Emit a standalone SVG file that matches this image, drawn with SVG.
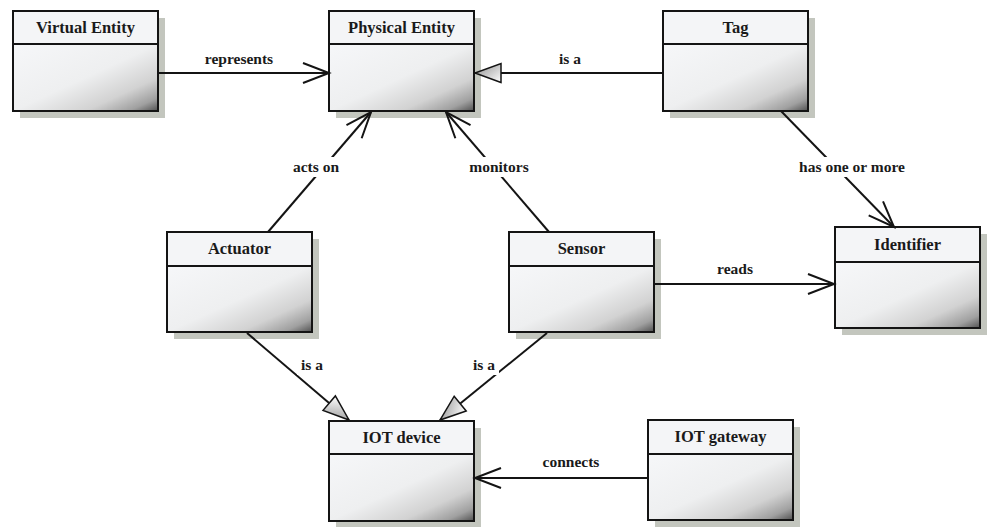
<svg xmlns="http://www.w3.org/2000/svg" width="987" height="527" viewBox="0 0 987 527">
<style>
.shadow{fill:#c3c6be}
.hdr{fill:#f4f5f7;stroke:none}
.body{fill:url(#bodyGrad);stroke:none}
.frame{fill:none;stroke:#141414;stroke-width:2}
.title{font-family:"Liberation Serif","DejaVu Serif",serif;font-weight:bold;font-size:16.5px;fill:#1a1a1a;text-anchor:middle}
.lbl{font-family:"Liberation Serif","DejaVu Serif",serif;font-weight:bold;font-size:15.5px;fill:#1a1a1a;text-anchor:middle}
.edge{stroke:#141414;stroke-width:2;fill:none}
.lblbg{fill:#ffffff}
</style>
<defs>
<linearGradient id="bodyGrad" x1="0" y1="0" x2="1" y2="1">
<stop offset="0" stop-color="#f6f7f9"/>
<stop offset="0.5" stop-color="#eeeff0"/>
<stop offset="0.75" stop-color="#d2d2d2"/>
<stop offset="0.9" stop-color="#a0a0a0"/>
<stop offset="1" stop-color="#505050"/>
</linearGradient>
<linearGradient id="triGrad" x1="0" y1="0" x2="1" y2="1">
<stop offset="0" stop-color="#ffffff"/>
<stop offset="1" stop-color="#8a8a8a"/>
</linearGradient>
<marker id="open" markerUnits="userSpaceOnUse" orient="auto" markerWidth="30" markerHeight="26" viewBox="-28 -13 30 26" refX="0" refY="0" overflow="visible">
<path d="M-26,-10 L0,0 L-26,10" fill="none" stroke="#141414" stroke-width="2"/>
</marker>
<marker id="tri" markerUnits="userSpaceOnUse" orient="auto" markerWidth="30" markerHeight="26" viewBox="-28 -13 30 26" refX="0" refY="0" overflow="visible">
<path d="M-26,-9.5 L0,0 L-26,9.5 Z" fill="url(#triGrad)" stroke="#141414" stroke-width="1.5"/>
</marker>
</defs>
<rect width="987" height="527" fill="#ffffff"/>

<g id="virtual-entity">
<rect class="shadow" x="20" y="18" width="145" height="100"/>
<rect class="hdr" x="13" y="11" width="145" height="33"/>
<rect class="body" x="13" y="44" width="145" height="67"/>
<rect class="frame" x="13" y="11" width="145" height="100"/>
<line class="frame" x1="13" y1="44" x2="158" y2="44"/>
<text class="title" x="85.5" y="33">Virtual Entity</text>
</g>

<g id="physical-entity">
<rect class="shadow" x="336" y="18" width="145" height="100"/>
<rect class="hdr" x="329" y="11" width="145" height="33"/>
<rect class="body" x="329" y="44" width="145" height="67"/>
<rect class="frame" x="329" y="11" width="145" height="100"/>
<line class="frame" x1="329" y1="44" x2="474" y2="44"/>
<text class="title" x="401.5" y="33">Physical Entity</text>
</g>

<g id="tag">
<rect class="shadow" x="670" y="18" width="145" height="100"/>
<rect class="hdr" x="663" y="11" width="145" height="33"/>
<rect class="body" x="663" y="44" width="145" height="67"/>
<rect class="frame" x="663" y="11" width="145" height="100"/>
<line class="frame" x1="663" y1="44" x2="808" y2="44"/>
<text class="title" x="735.5" y="33">Tag</text>
</g>

<g id="actuator">
<rect class="shadow" x="174" y="239" width="145" height="100"/>
<rect class="hdr" x="167" y="232" width="145" height="34"/>
<rect class="body" x="167" y="266" width="145" height="66"/>
<rect class="frame" x="167" y="232" width="145" height="100"/>
<line class="frame" x1="167" y1="266" x2="312" y2="266"/>
<text class="title" x="239.5" y="254">Actuator</text>
</g>

<g id="sensor">
<rect class="shadow" x="516" y="239" width="145" height="100"/>
<rect class="hdr" x="509" y="232" width="145" height="34"/>
<rect class="body" x="509" y="266" width="145" height="66"/>
<rect class="frame" x="509" y="232" width="145" height="100"/>
<line class="frame" x1="509" y1="266" x2="654" y2="266"/>
<text class="title" x="581.5" y="254">Sensor</text>
</g>

<g id="identifier">
<rect class="shadow" x="842" y="234" width="145" height="101"/>
<rect class="hdr" x="835" y="227" width="145" height="35"/>
<rect class="body" x="835" y="262" width="145" height="66"/>
<rect class="frame" x="835" y="227" width="145" height="101"/>
<line class="frame" x1="835" y1="262" x2="980" y2="262"/>
<text class="title" x="907.5" y="250">Identifier</text>
</g>

<g id="iot-device">
<rect class="shadow" x="336" y="428" width="145" height="100"/>
<rect class="hdr" x="329" y="421" width="145" height="33"/>
<rect class="body" x="329" y="454" width="145" height="67"/>
<rect class="frame" x="329" y="421" width="145" height="100"/>
<line class="frame" x1="329" y1="454" x2="474" y2="454"/>
<text class="title" x="401.5" y="443">IOT device</text>
</g>

<g id="iot-gateway">
<rect class="shadow" x="655" y="427" width="145" height="100"/>
<rect class="hdr" x="648" y="420" width="145" height="34"/>
<rect class="body" x="648" y="454" width="145" height="66"/>
<rect class="frame" x="648" y="420" width="145" height="100"/>
<line class="frame" x1="648" y1="454" x2="793" y2="454"/>
<text class="title" x="720.5" y="442">IOT gateway</text>
</g>

<g id="connectors">
<line class="edge" x1="158" y1="73" x2="329" y2="73" marker-end="url(#open)"/>
<line class="edge" x1="663" y1="73" x2="475" y2="73" marker-end="url(#tri)"/>
<line class="edge" x1="268" y1="232" x2="371" y2="112" marker-end="url(#open)"/>
<line class="edge" x1="549" y1="232" x2="446" y2="112" marker-end="url(#open)"/>
<line class="edge" x1="781" y1="111" x2="894" y2="227" marker-end="url(#open)"/>
<line class="edge" x1="654" y1="284" x2="834" y2="284" marker-end="url(#open)"/>
<line class="edge" x1="247" y1="333" x2="349" y2="420" marker-end="url(#tri)"/>
<line class="edge" x1="547" y1="333" x2="440" y2="420" marker-end="url(#tri)"/>
<line class="edge" x1="648" y1="478" x2="475" y2="478" marker-end="url(#open)"/>
<g id="labels">
<text class="lbl" x="239" y="64">represents</text>
<text class="lbl" x="570" y="64">is a</text>
<rect class="lblbg" x="288" y="157" width="58" height="20"/>
<text class="lbl" x="316" y="172">acts on</text>
<rect class="lblbg" x="465" y="157" width="68" height="20"/>
<text class="lbl" x="499" y="172">monitors</text>
<rect class="lblbg" x="794" y="157" width="116" height="20"/>
<text class="lbl" x="852" y="172">has one or more</text>
<text class="lbl" x="735" y="274">reads</text>
<rect class="lblbg" x="297" y="355" width="30" height="20"/>
<text class="lbl" x="312" y="370">is a</text>
<rect class="lblbg" x="469" y="355" width="30" height="20"/>
<text class="lbl" x="484" y="370">is a</text>
<text class="lbl" x="571" y="467">connects</text>
</g>
</g>
</svg>
